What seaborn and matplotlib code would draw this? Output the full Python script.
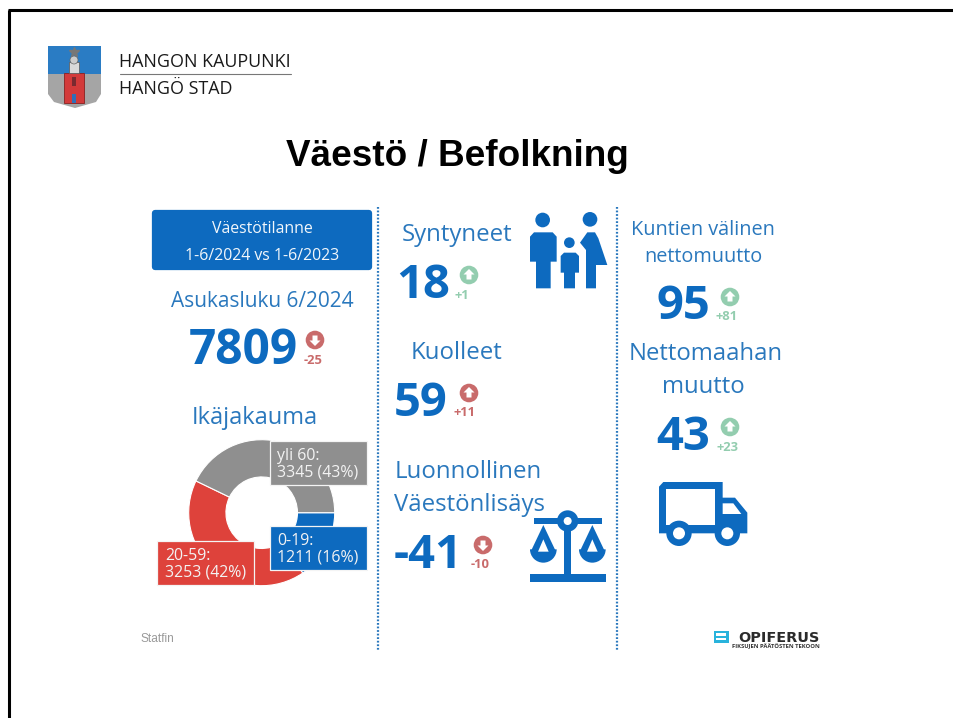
import matplotlib
matplotlib.use("Agg")
import matplotlib.pyplot as plt
from matplotlib.patches import Circle, FancyBboxPatch, Polygon, Rectangle, Wedge
import seaborn as sns

sns.set_theme(style="white")
plt.rcParams['font.family'] = ['Open Sans', 'DejaVu Sans']

# ---- data ----
age_labels = ["0-19:\n1211 (16%)", "20-59:\n3253 (42%)", "yli 60:\n3345 (43%)"]
age_values = [1211, 3253, 3345]
stat_values = ["18", "59", "-41", "95", "43"]
stat_deltas = ["+1", "+11", "-10", "+81", "+23"]
population = "7809"
population_delta = "-25"

BLUE = "#0d6abf"
TXT = "#2a78bd"
RED = "#de423b"
GRAY = "#8f8f8f"
UP = "#93cdaf"
BAD = "#c96b6b"
palette = sns.color_palette([BLUE, RED, GRAY])

fig = plt.figure(figsize=(9.54, 7.18), dpi=100, facecolor="white")
ax = fig.add_axes([0, 0, 1, 1])
ax.set_xlim(0, 954)
ax.set_ylim(718, 0)
ax.axis("off")


def T(x, y, s, size, color=TXT, ha="center", weight="normal", z=6, **kw):
    ax.text(x, y + size * 0.1, s, fontsize=size, color=color, ha=ha, va="center", fontweight=weight, zorder=z, **kw)


# frame
ax.plot([9, 9], [718, 10], color="black", lw=2.2, solid_capstyle="butt")
ax.plot([8, 954], [10, 10], color="black", lw=2.2, solid_capstyle="butt")

# coat of arms
ax.add_patch(Polygon([(48, 46), (101, 46), (101, 74), (48, 74)], fc="#2a7cc4", ec="none"))
ax.add_patch(Polygon([(48, 74), (101, 74), (101, 94), (96, 102), (75, 108), (54, 102), (48, 94)], fc="#a5a5a5", ec="none"))
ax.add_patch(Rectangle((64, 73), 20, 30, fc="#d33a3a", ec="#8a2020", lw=0.6))
ax.add_patch(Rectangle((69, 62), 10, 11, fc="#d9d9d9", ec="#555555", lw=0.5))
ax.add_patch(Circle((74, 60), 4, fc="#cccccc", ec="#666666", lw=0.5))
ax.plot([74], [52], marker="*", ms=7, color="#777777")
ax.add_patch(Rectangle((72, 77), 4, 9, fc="#7a2a30", ec="none"))
ax.add_patch(Rectangle((72, 94), 4, 9, fc="#2f6fb8", ec="none"))

T(119, 61, "HANGON KAUPUNKI", 12.9, "#1a1a1a", "left")
ax.plot([120, 291], [74, 74], color="#777777", lw=0.8)
T(119, 87.5, "HANGÖ STAD", 12.9, "#1a1a1a", "left")

T(457, 153.5, "Väestö / Befolkning", 26.6, "black", weight="bold", family="Liberation Sans")

# separators
for x in (378.5, 617):
    ax.plot([x, x], [207, 650], color="#2a78bd", lw=1.6, ls=(0, (0.8, 0.8)))

# header box
ax.add_patch(FancyBboxPatch((155, 213), 214, 54, boxstyle="round,pad=0,rounding_size=0", fc=BLUE, ec=BLUE, lw=4.5, joinstyle="round"))
T(262, 228, "Väestötilanne", 11.4, "#f2f7fb")
T(262, 255, "1-6/2024 vs 1-6/2023", 11.4, "#f2f7fb")

T(262, 300, "Asukasluku 6/2024", 15)
T(255, 416, "Ikäjakauma", 17.5 * 0.97)
T(457, 233, "Syntyneet", 17.3)
T(457, 351, "Kuolleet", 17.3)
T(395, 470, "Luonnollinen", 17.3, ha="left")
T(394, 503, "Väestönlisäys", 17.3, ha="left")
T(703, 229, "Kuntien välinen", 14.3)
T(703, 256, "nettomuutto", 14.3)
T(706, 352, "Nettomaahan", 17.2)
T(703, 385, "muutto", 17.2)


def badge(cx, cy, up, col):
    ax.add_patch(Circle((cx, cy), 9.3, fc=col, ec="none", zorder=5))
    s = 1 if up else -1
    pts = [(cx, cy - 6 * s), (cx + 5.5, cy - 0.5 * s), (cx + 2.5, cy - 0.5 * s), (cx + 2.5, cy + 4.5 * s),
           (cx - 2.5, cy + 4.5 * s), (cx - 2.5, cy - 0.5 * s), (cx - 5.5, cy - 0.5 * s)]
    ax.add_patch(Polygon(pts, fc="white", ec="none", zorder=6))


# big numbers: value, delta, centre, badge, delta position, state
placements = [(423, 282, 469, 275, 462, 295, True, UP),
              (421, 400, 469, 393, 465, 412, True, BAD),
              (428, 552, 483, 545, 480, 564, False, BAD),
              (683, 303, 730, 297, 727, 316, True, UP),
              (683, 434, 730, 427, 728, 447, True, UP)]
for v, d, (x, y, bx, by, dx, dy, up, col) in zip(stat_values, stat_deltas, placements):
    T(x, y, v, 34, BLUE, weight="bold")
    badge(bx, by, up, col)
    T(dx, dy, d, 9.4, col, weight="bold")

T(243, 348, population, 34.5, BLUE, weight="bold")
badge(315, 340, False, BAD)
T(313, 360, population_delta, 9.4, BAD, weight="bold")

# donut
cx, cy, R = 261.7, 512.7, 73
dax = fig.add_axes([(cx - R) / 954, 1 - (cy + R) / 718, 2 * R / 954, 2 * R / 718])
dax.pie(age_values, colors=palette, startangle=0, counterclock=False, radius=1,
        wedgeprops=dict(width=0.51, edgecolor="white", linewidth=0.8))
dax.set_xlim(-1, 1)
dax.set_ylim(-1, 1)
dax.set_zorder(1)
ax.set_zorder(2)
ax.patch.set_alpha(0)

boxes = [(270, 526, 97, 44, 277), (157.5, 541, 97, 44, 165), (270, 441, 97, 43.5, 277)]
for (x, y, w, h, tx), lab, col in zip(boxes, age_labels, palette):
    ax.add_patch(Rectangle((x, y), w, h, fc=col, ec="#f4f4f4", lw=0.9, zorder=4))
    a, b = lab.split("\n")
    T(tx, y + 13.5, a, 11.4, "#f3f3f3", "left")
    T(tx, y + 30, b, 11.4, "#f3f3f3", "left")

T(141, 638.5, "Statfin", 8.6, "#9a9a9a", "left", family="Liberation Sans")


# icons, drawn in the zoomed coordinates
def Z(pts, ox, oy):
    return [(ox + a / 3, oy + b / 3) for a, b in pts]


def poly(pts, ox, oy, col=BLUE):
    ax.add_patch(Polygon(Z(pts, ox, oy), fc=col, ec="none", zorder=5))


def circ(a, b, r, ox, oy, col=BLUE, z=5):
    ax.add_patch(Circle((ox + a / 3, oy + b / 3), r / 3, fc=col, ec="none", zorder=z))


# family
o = (380, 200)
circ(488, 60, 22, *o)
poly([(462, 97), (518, 97), (530, 110), (530, 185), (512, 185), (512, 265), (468, 265), (468, 185), (450, 185), (450, 110)], *o)
circ(568, 128, 16, *o)
poly([(552, 158), (587, 158), (597, 168), (597, 218), (585, 218), (585, 265), (552, 265), (552, 218), (542, 218), (542, 168)], *o)
circ(630, 58, 22, *o)
poly([(622, 97), (645, 97), (655, 115), (682, 195), (648, 195), (648, 265), (618, 265), (618, 150), (600, 128)], *o)

# scales
o = (380, 440)
poly([(462, 233), (665, 233), (665, 252), (462, 252)], *o)
circ(563, 243, 32, *o)
circ(563, 243, 12, *o, col="white", z=6)
poly([(553, 255), (573, 255), (573, 405), (553, 405)], *o)
poly([(450, 403), (677, 403), (677, 425), (450, 425)], *o)
for c in (490, 637):
    ax.add_patch(Wedge((o[0] + c / 3, o[1] + 328 / 3), 40 / 3, 0, 180, fc=BLUE, ec="none", zorder=5))
    poly([(c, 255), (c + 38, 335), (c - 38, 335)], *o)
    poly([(c, 298), (c + 16, 335), (c - 16, 335)], *o, col="white")

# truck
o = (640, 470)
poly([(70, 36), (248, 36), (248, 83), (285, 83), (322, 128), (322, 190), (57, 190), (57, 50)], *o)
poly([(78, 58), (226, 58), (226, 166), (78, 166)], *o, col="white")
poly([(248, 100), (280, 100), (304, 132), (248, 132)], *o, col="white")
for c in (117, 262):
    circ(c, 190, 38, *o, col=BLUE, z=6)
    circ(c, 190, 18, *o, col="white", z=7)

# Opiferus logo
ax.add_patch(Rectangle((714, 631), 15, 11.5, fc="#29b3dc", ec="none", zorder=5))
ax.add_patch(Rectangle((716.5, 633.3), 10, 2.3, fc="white", ec="none", zorder=6))
ax.add_patch(Rectangle((716.5, 637.8), 10, 2.3, fc="white", ec="none", zorder=6))
T(779, 636.5, "OPIFERUS", 10.4, "#2b2b2b", weight="bold", family="DejaVu Sans")
T(776, 645.5, "FIKSUJEN PÄÄTÖSTEN TEKOON", 4.2, "#333333", weight="bold")

fig.savefig("out.png", dpi=100, facecolor="white")
